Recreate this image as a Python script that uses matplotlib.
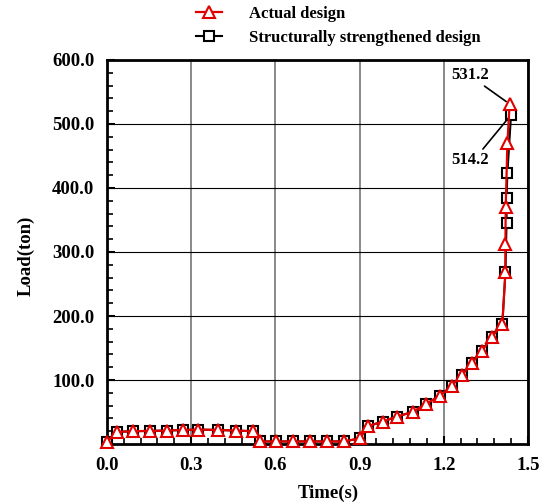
import matplotlib
matplotlib.use('Agg')
import matplotlib.pyplot as plt
from matplotlib.ticker import MultipleLocator, FormatStrFormatter

plt.rcParams['font.family'] = 'Liberation Serif'
plt.rcParams['font.weight'] = 'bold'

# Actual design (red triangles)
t_actual = [0.0, 0.035, 0.092, 0.152, 0.213, 0.270, 0.326, 0.394, 0.461, 0.521,
            0.546, 0.603, 0.663, 0.723, 0.784, 0.844, 0.903, 0.930, 0.983, 1.033,
            1.089, 1.136, 1.187, 1.228, 1.266, 1.302, 1.337, 1.372, 1.409,
            1.420, 1.420, 1.421, 1.427, 1.435]
load_actual = [3, 19, 20, 20.5, 21, 22, 22.5, 22, 21, 20,
               4, 4, 4, 4, 4, 4, 9, 28, 35, 43,
               50, 62.5, 75.5, 90.6, 108, 127, 146, 167, 188,
               268, 313, 370, 470, 531.2]

# Structurally strengthened design (black squares)
t_strong = [0.0, 0.035, 0.092, 0.152, 0.213, 0.270, 0.326, 0.394, 0.461, 0.521,
            0.546, 0.603, 0.663, 0.723, 0.784, 0.844, 0.903, 0.930, 0.983, 1.033,
            1.089, 1.136, 1.187, 1.228, 1.266, 1.302, 1.337, 1.372, 1.409,
            1.420, 1.424, 1.424, 1.427, 1.440]
load_strong = [3, 19, 20, 20.5, 21, 22, 22.5, 22, 21, 20,
               4, 4, 4, 4, 4, 4, 9, 28, 35, 43,
               50, 62.5, 75.5, 90.6, 108, 127, 146, 167, 188,
               268, 345, 384, 423, 514.2]

peak_actual = 531.2
peak_strong = 514.2

fig = plt.figure(figsize=(5.56, 5.04), dpi=100)
ax = fig.add_axes([0.1924, 0.119, 0.757, 0.762])

ax.plot(t_strong, load_strong, color='black', lw=1.5, marker='s', ms=6.5,
        mfc='white', mec='black', mew=1.5, clip_on=False, zorder=3,
        label='Structurally strengthened design')
ax.plot(t_actual, load_actual, color='#e00000', lw=1.6, marker='^', ms=8.5,
        mfc='white', mec='#e00000', mew=1.5, clip_on=False, zorder=4,
        label='Actual design')

ax.set_xlim(0, 1.5)
ax.set_ylim(0, 600)
ax.xaxis.set_major_locator(MultipleLocator(0.3))
ax.xaxis.set_minor_locator(MultipleLocator(0.06))
ax.yaxis.set_major_locator(MultipleLocator(100))
ax.yaxis.set_minor_locator(MultipleLocator(20))
ax.xaxis.set_major_formatter(FormatStrFormatter('%.1f'))
ax.yaxis.set_major_formatter(FormatStrFormatter('%.1f'))
ax.set_yticks([100, 200, 300, 400, 500, 600])

ax.tick_params(which='both', direction='in', top=False, right=False,
               labelsize=13.5, pad=9)
ax.tick_params(which='major', length=6, width=1.5)
ax.tick_params(which='minor', length=4, width=1.2)
for s in ax.spines.values():
    s.set_linewidth(2)

ax.set_axisbelow(True)
ax.xaxis.grid(True, color='#808080', lw=1.3)
ax.yaxis.grid(True, color='black', lw=0.8)

ax.set_xlabel('Time(s)', fontsize=13.5, fontweight='bold')
ax.set_ylabel('Load(ton)', fontsize=13.5, fontweight='bold')
ax.xaxis.set_label_coords(0.527, -0.105)
ax.yaxis.set_label_coords(-0.172, 0.49)

ax.annotate(f'{peak_actual:.1f}', xy=(t_actual[-1], peak_actual), xytext=(1.294, 576),
            ha='center', va='center', fontsize=12, fontweight='bold',
            arrowprops=dict(arrowstyle='-', color='black', lw=1.2,
                            shrinkA=0, shrinkB=3, relpos=(0.78, 0.0)))
ax.annotate(f'{peak_strong:.1f}', xy=(t_strong[-1], peak_strong), xytext=(1.294, 444),
            ha='center', va='center', fontsize=12, fontweight='bold',
            arrowprops=dict(arrowstyle='-', color='black', lw=1.2,
                            shrinkA=0, shrinkB=2, relpos=(0.78, 1.0)))

handles, labels = ax.get_legend_handles_labels()
fig.legend(handles[::-1], labels[::-1], loc='upper left', bbox_to_anchor=(0.352, 0.988),
           frameon=False, handlelength=1.6, handletextpad=1.6,
           labelspacing=0.45, borderpad=0, borderaxespad=0,
           prop={'weight': 'bold', 'size': 12})

fig.savefig('out.png', dpi=100)
